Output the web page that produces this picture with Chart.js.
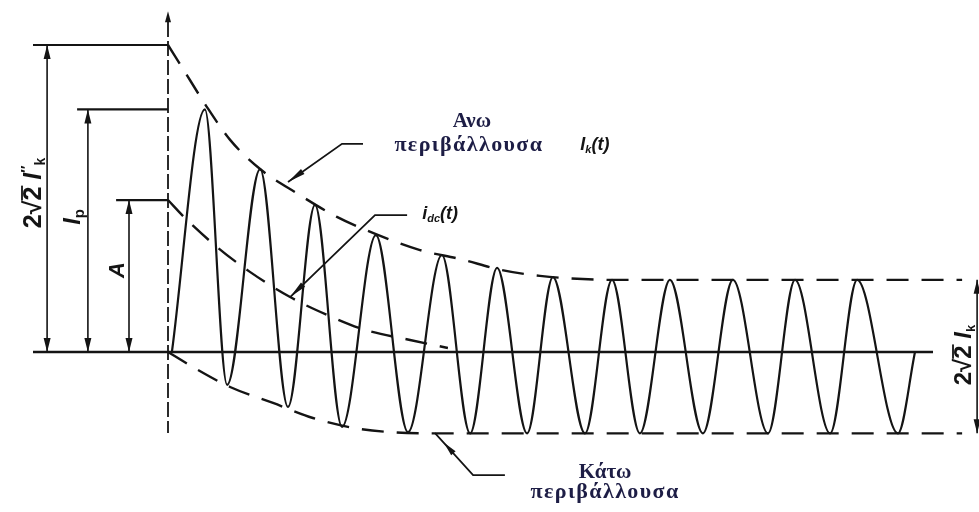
<!DOCTYPE html>
<html>
<head>
<meta charset="utf-8">
<script src="https://cdn.jsdelivr.net/npm/chart.js@4.4.1/dist/chart.umd.min.js"></script>
<style>
  html, body { margin: 0; padding: 0; background: #fff; }
  #wrap { width: 979px; height: 512px; }
</style>
</head>
<body>
<div id="wrap"><canvas id="chart" width="979" height="512"></canvas></div>
<script>
// time in ms (50 Hz -> 20 ms per cycle), current in units where 2√2 I''k = 10

// short-circuit current i_k(t): start, then alternating peaks / troughs, end
const waveT = [1.3, 12.3, 19.7, 30.7, 40, 49, 58, 69.3, 80, 91.3, 100.7, 109.7, 119.7, 128.3,
  139, 148, 157.3, 167.3, 178.3, 188.3, 200, 209, 220.7, 229.7, 243.3, 249];
const waveI = [0, 7.9, -1.07, 5.96, -1.79, 4.79, -2.44, 3.81, -2.61, 3.16, -2.65, 2.74, -2.65, 2.44,
  -2.65, 2.35, -2.65, 2.35, -2.65, 2.35, -2.65, 2.35, -2.65, 2.35, -2.65, 0];

// upper envelope
const upperT = [0, 7.3, 12.3, 20.7, 30.7, 43.3, 56.3, 69.3, 84, 97.3, 111.3, 124, 148, 264.7];
const upperI = [10, 8.86, 8.08, 6.91, 5.96, 5.15, 4.4, 3.84, 3.32, 3.03, 2.67, 2.48, 2.35, 2.35];

// lower envelope
const lowerT = [0, 8.3, 20.7, 35, 48.3, 62.3, 75.7, 90, 264.7];
const lowerI = [0, -0.49, -1.14, -1.66, -2.15, -2.48, -2.62, -2.65, -2.65];

// dc component i_dc(t)
const dcT = [0, 5.7, 16.7, 27.3, 40.7, 53, 65.7, 80.7, 93.3];
const dcI = [4.95, 4.36, 3.39, 2.61, 1.79, 1.21, 0.72, 0.39, 0.13];

// levels marked on the left / right
const levelPeak = 10;      // 2√2 I''k
const levelIp = 7.9;       // Ip
const levelA = 4.95;       // A
const levelTop = 2.35;     // steady upper envelope
const levelBottom = -2.65; // steady lower envelope

// leader lines (t, i)
const leaderUpperT = [65, 58, 40];
const leaderUpperI = [6.78, 6.78, 5.54];
const leaderDcT = [79.7, 69, 40.7];
const leaderDcI = [4.46, 4.46, 1.79];
const leaderLowerT = [89, 101.7, 112.3];
const leaderLowerI = [-2.64, -4.01, -4.01];

const ink = '#141414';
const navy = '#1d1d45';

const zip = (ts, is) => ts.map((t, k) => ({ x: t, y: is[k] }));
const seg = (pts) => pts.map(p => ({ x: p[0], y: p[1] }));

function line(data, extra) {
  return Object.assign({
    data: data,
    showLine: true,
    borderColor: ink,
    borderWidth: 2,
    pointRadius: 0,
    fill: false
  }, extra || {});
}

const dash = [22, 13];

function drawRuns(ctx, x, y, runs, rot, color, spacing) {
  ctx.save();
  ctx.translate(x, y);
  if (rot) ctx.rotate(rot);
  ctx.fillStyle = color || ink;
  ctx.textBaseline = 'alphabetic';
  if (spacing) ctx.letterSpacing = spacing + 'px';
  let w = 0;
  runs.forEach(r => { ctx.font = r.font; r.w = ctx.measureText(r.s).width; w += r.w; });
  let cx = -w / 2;
  runs.forEach(r => {
    ctx.font = r.font;
    ctx.fillText(r.s, cx, r.dy || 0);
    if (r.bar) ctx.fillRect(cx, r.bar, r.w + 1, 1.8);
    cx += r.w;
  });
  ctx.restore();
}

const sketch = {
  id: 'sketch',
  afterDatasetsDraw(chart, args, opts) {
    const ctx = chart.ctx;
    const px = t => chart.scales.x.getPixelForValue(t);
    const py = i => chart.scales.y.getPixelForValue(i);
    ctx.save();
    ctx.fillStyle = ink;
    opts.arrows.forEach(a => {
      const x1 = px(a.tip[0]), y1 = py(a.tip[1]);
      const x0 = px(a.from[0]), y0 = py(a.from[1]);
      const ang = Math.atan2(y1 - y0, x1 - x0);
      ctx.save();
      ctx.translate(x1, y1);
      ctx.rotate(ang);
      ctx.beginPath();
      ctx.moveTo(0, 0);
      ctx.lineTo(-a.len, -a.half);
      ctx.lineTo(-a.len, a.half);
      ctx.closePath();
      ctx.fill();
      ctx.restore();
    });
    opts.labels.forEach(l => drawRuns(ctx, px(l.at[0]), py(l.at[1]), l.runs, l.rot, l.color, l.spacing));
    ctx.restore();
  }
};

const sans = (w, s) => w + ' ' + s + 'px "Liberation Sans"';
const serif = 'bold 21px "Liberation Serif"';
const serifWide = 'bold 22px "Liberation Serif"';
const up = -Math.PI / 2;

const dims = [
  { t: -40.3, top: levelPeak, bottom: 0 },
  { t: -26.7, top: levelIp, bottom: 0 },
  { t: -13, top: levelA, bottom: 0 },
  { t: 269.7, top: levelTop, bottom: levelBottom }
];

const arrows = [];
dims.forEach(d => {
  arrows.push({ tip: [d.t, d.top], from: [d.t, d.bottom], len: 14, half: 3.5 });
  arrows.push({ tip: [d.t, d.bottom], from: [d.t, d.top], len: 14, half: 3.5 });
});
arrows.push({ tip: [0, 11.1], from: [0, 0], len: 11, half: 3 });
arrows.push({ tip: [leaderUpperT[2], leaderUpperI[2]], from: [leaderUpperT[1], leaderUpperI[1]], len: 18, half: 3 });
arrows.push({ tip: [leaderDcT[2], leaderDcI[2]], from: [leaderDcT[1], leaderDcI[1]], len: 18, half: 3 });
arrows.push({ tip: [92, -2.96], from: [leaderLowerT[1], leaderLowerI[1]], len: 14, half: 3 });

const labels = [
  { at: [-42.3, 5.18], rot: up, runs: [
    { s: '2√', font: sans('bold', 25) },
    { s: '2', font: sans('bold', 25), bar: -20 },
    { s: ' I', font: sans('bold italic', 25) },
    { s: '″', font: sans('bold', 15), dy: -10 },
    { s: 'k', font: sans('bold', 14), dy: 4 }
  ] },
  { at: [-29.3, 4.4], rot: up, runs: [
    { s: 'I', font: sans('bold italic', 24) },
    { s: 'p', font: sans('bold', 15), dy: 4 }
  ] },
  { at: [-14.7, 2.67], rot: up, runs: [
    { s: 'A', font: sans('bold italic', 22) }
  ] },
  { at: [267.7, -0.1], rot: up, runs: [
    { s: '2√', font: sans('bold', 24) },
    { s: '2', font: sans('bold', 24), bar: -19 },
    { s: ' I', font: sans('bold italic', 24) },
    { s: 'k', font: sans('bold', 13), dy: 4 }
  ] },
  { at: [101.3, 7.33], color: navy, runs: [{ s: 'Ανω', font: serif }] },
  { at: [100.3, 6.54], color: navy, spacing: 1.4, runs: [{ s: 'περιβάλλουσα', font: serifWide }] },
  { at: [145.7, -4.1], color: navy, runs: [{ s: 'Κάτω', font: serif }] },
  { at: [145.7, -4.74], color: navy, spacing: 1.4, runs: [{ s: 'περιβάλλουσα', font: serifWide }] },
  { at: [142.3, 6.58], runs: [
    { s: 'I', font: sans('bold italic', 18) },
    { s: 'k', font: sans('bold italic', 11), dy: 3 },
    { s: '(t)', font: sans('bold italic', 18) }
  ] },
  { at: [90.7, 4.33], runs: [
    { s: 'i', font: sans('bold italic', 18) },
    { s: 'dc', font: sans('bold italic', 11), dy: 3 },
    { s: '(t)', font: sans('bold italic', 18) }
  ] }
];

const datasets = [
  line(zip(waveT, waveI), { cubicInterpolationMode: 'monotone', borderWidth: 2.2 }),
  line(zip(upperT, upperI), { cubicInterpolationMode: 'monotone', borderDash: dash, borderWidth: 2.4 }),
  line(zip(lowerT, lowerI), { cubicInterpolationMode: 'monotone', borderDash: dash, borderWidth: 2.4 }),
  line(zip(dcT, dcI), { cubicInterpolationMode: 'monotone', borderDash: dash, borderWidth: 2.4 }),
  line(seg([[-45, 0], [255, 0]]), { borderWidth: 2.6 }),
  line(seg([[0, 10.75], [0, -2.64]]), { borderDash: [15, 4], borderWidth: 1.8 }),
  line(seg([[-45, levelPeak], [0, levelPeak]]), { borderWidth: 2.2 }),
  line(seg([[-30.3, levelIp], [0, levelIp]]), { borderWidth: 2.2 }),
  line(seg([[-17.3, levelA], [0, levelA]]), { borderWidth: 2.2 }),
  line(zip(leaderUpperT, leaderUpperI), { borderWidth: 1.8 }),
  line(zip(leaderDcT, leaderDcI), { borderWidth: 1.8 }),
  line(zip(leaderLowerT, leaderLowerI), { borderWidth: 1.8 })
];
dims.forEach(d => datasets.push(line(seg([[d.t, d.top], [d.t, d.bottom]]), { borderWidth: 1.6 })));

new Chart(document.getElementById('chart'), {
  type: 'scatter',
  data: { datasets: datasets },
  plugins: [sketch],
  options: {
    responsive: false,
    animation: false,
    layout: { padding: 0 },
    scales: {
      x: { type: 'linear', min: -56, max: 270.33, display: false },
      y: { type: 'linear', min: -5.212, max: 11.466, display: false }
    },
    plugins: {
      legend: { display: false },
      tooltip: { enabled: false },
      sketch: { arrows: arrows, labels: labels }
    }
  }
});
</script>
</body>
</html>
